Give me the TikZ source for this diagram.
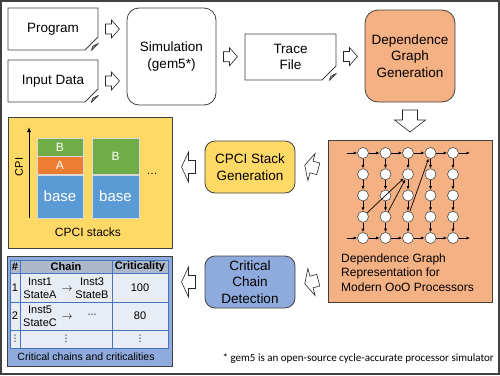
\documentclass[tikz,border=0pt]{standalone}
\usepackage{fontspec}
\setmainfont{Liberation Sans}
\newfontfamily\notefont{Carlito}
\newfontfamily\symfont{DejaVu Sans}
\usetikzlibrary{shapes.misc, arrows.meta, positioning, calc}

\definecolor{dgorange}{HTML}{F4B183}
\definecolor{cpyellow}{HTML}{FFD966}
\definecolor{ccblue}{HTML}{8FAADC}
\definecolor{stblue}{HTML}{5B9BD5}
\definecolor{storange}{HTML}{ED7D31}
\definecolor{stgreen}{HTML}{70AD47}
\definecolor{tblline}{HTML}{4472C4}
\definecolor{tblhead}{HTML}{ADB9CA}
\definecolor{tblcell}{HTML}{E7ECF5}
\definecolor{framegray}{HTML}{404040}

\newcommand\labfont{\fontsize{13.5}{16.5}\selectfont}
\newcommand\midfont{\fontsize{12}{14.5}\selectfont}
\newcommand\tabfont{\fontsize{11}{13}\selectfont}
\newcommand\capfont{\fontsize{10.5}{12}\selectfont}
\newcommand\stackbig{\fontsize{15}{17}\selectfont}
\newcommand\dotfont{\symfont\fontsize{9}{10}\selectfont}

\tikzset{
    pics/blockarrow/.style n args={4}{code={
        \filldraw[draw=black!85, fill=white, line width=0.6pt, line join=miter]
          (-#1/2,-#3) -- (#1/2-#2,-#3) -- (#1/2-#2,-#4) -- (#1/2,0)
          -- (#1/2-#2,#4) -- (#1/2-#2,#3) -- (-#1/2,#3) -- cycle;}}
}

\begin{document}
\begin{tikzpicture}[
    x=1pt, y=-1pt,
    doc/.style 2 args={
        chamfered rectangle,
        chamfered rectangle corners=south east,
        chamfered rectangle sep=#2pt,
        draw=framegray, fill=#1, line width=0.8pt, inner sep=0pt,
        append after command={\pgfextra{
            \filldraw[draw=framegray, fill=#1!75!black, line width=0.8pt, line join=round]
              ($(\tikzlastnode.south -| \tikzlastnode.east)+(-#2,0)$)
              -- ++(0.2*#2,-0.6*#2)
              -- ($(\tikzlastnode.south -| \tikzlastnode.east)+(0,-#2)$) -- cycle;}}
    },
    proc/.style={
        rounded corners=10pt, draw=framegray, line width=0.8pt,
        align=center, inner sep=1pt,
        minimum width=90, minimum height=52, font=\labfont
    },
    vtx/.style={circle, draw=black!70, fill=white, line width=0.6pt,
        minimum size=11pt, inner sep=0pt},
    garrow/.style={-{Latex[length=3.5pt, width=3pt]}, line width=0.7pt},
    seg/.style={draw=white!85!black, line width=0.4pt, text=white,
        minimum width=46, inner sep=0pt, font=\midfont},
    cell/.style={draw=tblline, fill=tblcell, line width=0.8pt,
        inner sep=0pt, font=\tabfont},
    sub/.style={align=center, inner sep=0pt, font=\tabfont}
]
\useasboundingbox (0,0) rectangle (500,375);
\draw[framegray, line width=1.5pt] (1,1) rectangle (499,374);

% top row: inputs, simulator, trace
\node[doc={white}{7}, minimum width=90, minimum height=42, font=\labfont] (prog) at (53,29) {Program};
\node[doc={white}{7}, minimum width=90, minimum height=42, font=\labfont] (input) at (53,81) {Input Data};
\node[proc, fill=white, minimum width=89, minimum height=97, rounded corners=12pt] (sim) at (171.5,56.5) {Simulation\\(gem5*)};
\node[doc={white}{7}, minimum width=91, minimum height=46, font=\labfont, align=center] (trace) at (290.5,57) {Trace\\File};
\node[proc, fill=dgorange, minimum height=92, rounded corners=13pt] (dggen) at (410,56) {Dependence\\Graph\\Generation};

\pic (arr1) at ($(prog.east)!0.5!(prog.east -| sim.west)$) {blockarrow={14}{8}{5}{9}};
\pic (arr2) at ($(input.east)!0.5!(input.east -| sim.west)$) {blockarrow={14}{8}{5}{9}};
\pic (arr3) at ($(sim.east)!0.5!(trace.west)$) {blockarrow={14}{8}{5}{9}};
\pic (arr4) at ($(trace.east)!0.5!(dggen.west)$) {blockarrow={14}{8}{5}{9}};

% dependence graph
\node[doc={dgorange}{11}, minimum width=164, minimum height=162] (dgrep) at (410,221) {};
\pic[rotate=-90] (arr5) at ($(dggen.south)!0.5!(dgrep.north)$) {blockarrow={22}{12}{7.5}{15.5}};

\foreach \r in {1,...,5}
  \foreach \c in {1,...,5}
    \node[vtx] (v\r\c) at ({340.5+22.5*\c},{131.75+21.25*\r}) {};

\foreach \c in {1,...,5}
  \foreach \r in {1,...,4} {
    \pgfmathtruncatemacro\nxt{\r+1}
    \draw[garrow] (v\r\c) -- (v\nxt\c);
  }

\foreach \r in {1,5} {
  \coordinate (in\r) at ($(v\r1)+(-16,0)$);
  \coordinate (out\r) at ($(v\r5)+(17,0)$);
  \draw[garrow] (in\r) -- (v\r1);
  \foreach \c in {1,...,4} {
    \pgfmathtruncatemacro\nxt{\c+1}
    \draw[garrow] (v\r\c) -- (v\r\nxt);
  }
  \draw[garrow] (v\r5) -- (out\r);
}
\draw[garrow] (v41) -- (v23);
\draw[garrow] (v42) -- (v23);
\draw[garrow] (v43) -- (v14);

\node[anchor=west, align=left, inner sep=0pt, font=\midfont] (dgtext) at (341,272.5) {Dependence Graph\\Representation for\\Modern OoO Processors};

% CPCI stacks
\node[proc, fill=cpyellow] (cpgen) at (250,167) {CPCI Stack\\Generation};
\pic[rotate=165] (arr6) at ($(cpgen.east)!0.5!(cpgen.east -| dgrep.west)$) {blockarrow={14}{7}{6}{14}};

\node[doc={cpyellow}{11}, minimum width=164, minimum height=131] (stacks) at (90,182.5) {};
\pic[rotate=180] (arr7) at ($(cpgen.west)!0.5!(cpgen.west -| stacks.east)$) {blockarrow={14}{7}{6.5}{15}};

\coordinate (cpibot) at (29,218);
\coordinate (cpitop) at (29,127);
\draw[-{Latex[length=5pt, width=4pt]}, line width=0.8pt] (cpibot) -- (cpitop);
\node[rotate=90, font=\tabfont] (cpilbl) at (19,167) {CPI};

\node[seg, fill=stblue, minimum height=43, font=\stackbig] (base1) at (60,196.5) {base};
\node[seg, fill=storange, minimum height=18, above=0pt of base1] (segA) {A};
\node[seg, fill=stgreen, minimum height=18, above=0pt of segA] (segB1) {B};
\node[seg, fill=stblue, minimum width=47, minimum height=43, font=\stackbig] (base2) at (115.5,196.5) {base};
\node[seg, fill=stgreen, minimum width=47, minimum height=36, above=0pt of base2] (segB2) {B};
\node[font=\tabfont] (more) at (152,174) {\ldots};
\node[font=\midfont] (stackcap) at (88,232) {CPCI stacks};

% critical chains
\node[proc, fill=ccblue] (ccdet) at (250,282) {Critical\\Chain\\Detection};
\pic[rotate=195] (arr8) at ($(ccdet.east)!0.5!(ccdet.east -| dgrep.west)$) {blockarrow={14}{7}{6}{14}};

\node[doc={ccblue}{10}, minimum width=165, minimum height=110] (chains) at (89.5,311) {};
\pic[rotate=180] (arr9) at ($(ccdet.west)!0.5!(ccdet.west -| chains.east)$) {blockarrow={14}{7}{6.5}{15}};

\node[cell, fill=tblhead, minimum width=10, minimum height=13, font=\tabfont\bfseries] (h1) at (15,266.5) {\#};
\node[cell, fill=tblhead, minimum width=92, minimum height=13, font=\tabfont\bfseries] (h2) at (66,266.5) {Chain};
\node[cell, fill=tblhead, minimum width=56, minimum height=13, font=\tabfont\bfseries] (h3) at (140,266.5) {Criticality};
\node[cell, minimum width=10, minimum height=29] (c11) at (15,287.5) {1};
\node[cell, minimum width=92, minimum height=29] (c12) at (66,287.5) {};
\node[cell, minimum width=56, minimum height=29] (c13) at (140,287.5) {100};
\node[cell, minimum width=10, minimum height=28] (c21) at (15,316) {2};
\node[cell, minimum width=92, minimum height=28] (c22) at (66,316) {};
\node[cell, minimum width=56, minimum height=28] (c23) at (140,316) {80};
\node[cell, minimum width=10, minimum height=18, font=\dotfont] (c31) at (15,339) {⋮};
\node[cell, minimum width=92, minimum height=18, font=\dotfont] (c32) at (66,339) {⋮};
\node[cell, minimum width=56, minimum height=18, font=\dotfont] (c33) at (140,339) {⋮};

\node[sub] (i1) at (40,288) {Inst1\\StateA};
\node[sub] (ar1) at (67,289) {$\rightarrow$};
\node[sub] (i3) at (92,288) {Inst3\\StateB};
\node[sub] (i5) at (40,316) {Inst5\\StateC};
\node[sub] (ar2) at (67,317) {$\rightarrow$};
\node[sub, font=\dotfont] (dots2) at (92,316) {⋯};
\node[font=\capfont, inner sep=0pt] (chcap) at (86,357) {Critical chains and criticalities};

\node[anchor=east, inner sep=0pt, font=\notefont\fontsize{11}{13}\selectfont] (note) at (494,359) {* gem5 is an open-source cycle-accurate processor simulator};

\end{tikzpicture}
\end{document}
